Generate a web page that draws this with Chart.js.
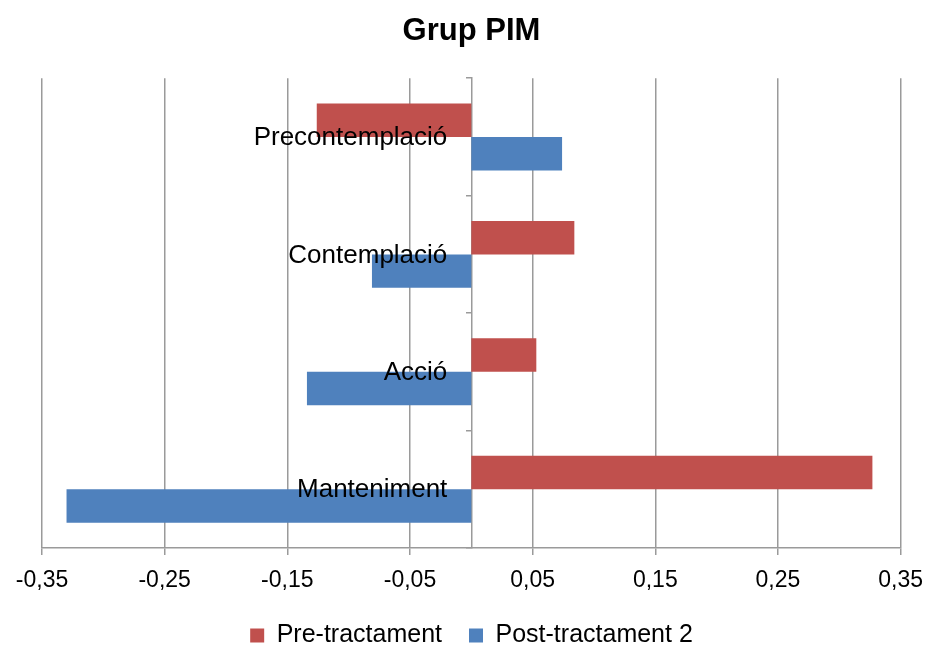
<!DOCTYPE html>
<html>
<head>
<meta charset="utf-8">
<script src="https://cdn.jsdelivr.net/npm/chart.js@4.4.0/dist/chart.umd.min.js"></script>
<style>
  html, body { margin: 0; padding: 0; background: #fff; }
  #wrap { width: 931px; height: 645px; }
</style>
</head>
<body>
<div id="wrap"><canvas id="chart" width="931" height="645"></canvas></div>
<script>
// Grup PIM — diferències per estadi
const categories = ['Precontemplació', 'Contemplació', 'Acció', 'Manteniment'];
const preValues = [-0.126, 0.084, 0.053, 0.327];
const postValues = [0.074, -0.081, -0.134, -0.330];
const xTicks = [-0.35, -0.25, -0.15, -0.05, 0.05, 0.15, 0.25, 0.35];

const FONT = "'Liberation Sans', Arial, sans-serif";
const GRID = '#9a9a9a';

const fmt = v => v.toFixed(2).replace('.', ',');

// category names sit left of the zero line, drawn over the bars
const catLabels = {
  id: 'catLabels',
  afterDatasetsDraw(chart) {
    const { ctx, scales: { x, y } } = chart;
    const x0 = x.getPixelForValue(0);
    ctx.save();
    ctx.font = '26px ' + FONT;
    ctx.fillStyle = '#000';
    ctx.textAlign = 'right';
    ctx.textBaseline = 'middle';
    categories.forEach((c, i) => ctx.fillText(c, x0 - 24, y.getPixelForValue(i) + 1));
    ctx.restore();
  }
};

new Chart(document.getElementById('chart'), {
  type: 'bar',
  data: {
    labels: categories,
    datasets: [
      { label: 'Pre-tractament', data: preValues, backgroundColor: '#C0504D', borderWidth: 0 },
      { label: 'Post-tractament 2', data: postValues, backgroundColor: '#4F81BD', borderWidth: 0 }
    ]
  },
  options: {
    indexAxis: 'y',
    responsive: false,
    animation: false,
    devicePixelRatio: 1,
    layout: { padding: { left: 42, right: 30, top: 0, bottom: -13 } },
    datasets: { bar: { categoryPercentage: 0.57, barPercentage: 1.0 } },
    scales: {
      x: {
        min: -0.35, max: 0.35,
        afterBuildTicks: s => { s.ticks = xTicks.map(v => ({ value: v })); },
        afterFit: s => { s.height = 48; },
        grid: { color: GRID, lineWidth: 1.5, tickLength: 7, drawTicks: true },
        border: { color: GRID, width: 1.5 },
        ticks: { color: '#000', font: { family: FONT, size: 23, lineHeight: 1.5 }, padding: 8, maxRotation: 0, callback: v => fmt(v) }
      },
      y: {
        position: { x: 0 },
        grid: { drawOnChartArea: false, color: GRID, lineWidth: 1.5, tickLength: 5, offset: true },
        border: { color: GRID, width: 1.5 },
        ticks: { display: false }
      }
    },
    plugins: {
      title: {
        display: true, text: 'Grup PIM', color: '#000',
        font: { family: FONT, size: 31, weight: 'bold' },
        padding: { top: 13, bottom: 28 }
      },
      legend: {
        position: 'bottom',
        labels: { color: '#000', font: { family: FONT, size: 25 }, boxWidth: 14, boxHeight: 14, padding: 27 }
      },
      tooltip: { enabled: false }
    }
  },
  plugins: [catLabels]
});
</script>
</body>
</html>
